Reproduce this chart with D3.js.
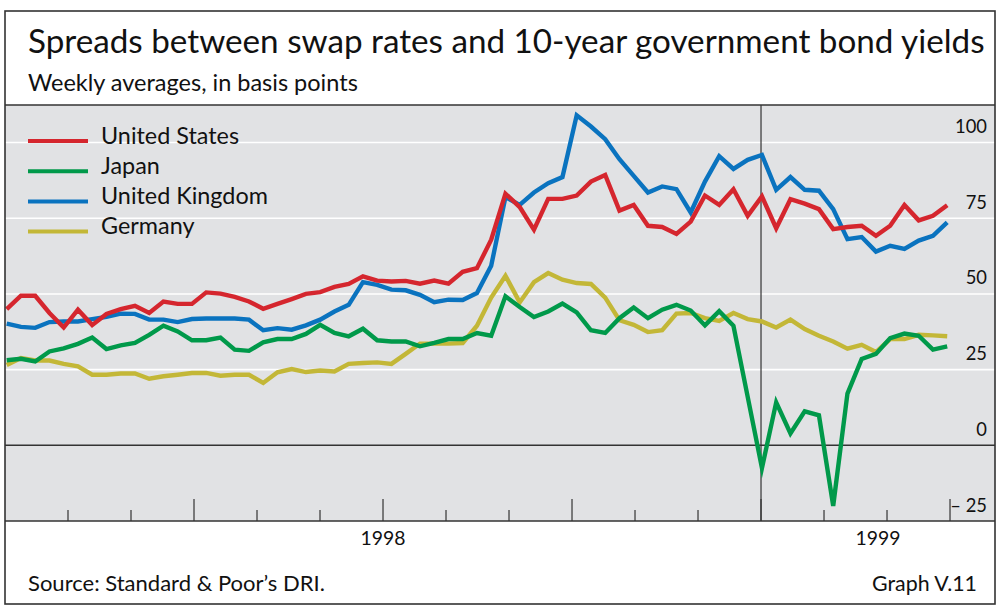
<!DOCTYPE html>
<html><head><meta charset="utf-8">
<script src="https://cdn.jsdelivr.net/npm/d3@7"></script>
<style>
body{margin:0;background:#fff}
svg{display:block}
text{font-family:Lato,"Open Sans",sans-serif;fill:#111}
</style>
</head><body>
<svg id="chart" width="1000" height="608"></svg>
<script>
// ---- data (weekly averages, basis points) ----
const seriesNames = ["United States", "Japan", "United Kingdom", "Germany"];
const seriesColors = ["#d5262e", "#00994a", "#0a73bf", "#c3b737"];
const unitedStates = [45.0,49.4,49.4,43.7,38.9,44.8,39.7,43.4,45.0,46.1,43.7,47.5,46.7,46.7,50.5,50.1,49.0,47.5,45.1,46.7,48.3,50.0,50.6,52.3,53.3,55.8,54.4,54.1,54.3,53.4,54.4,53.4,57.3,58.5,67.9,83.1,78.7,71.2,81.4,81.4,82.5,87.1,89.3,77.5,79.4,72.5,72.1,69.8,73.9,82.5,79.4,84.6,75.8,82.2,71.7,81.3,79.8,78.0,71.4,72.1,72.5,69.2,72.5,79.4,74.3,75.8,79.3];
const japan = [28.1,28.6,27.7,31.0,32.0,33.5,35.6,31.8,33.0,33.8,36.5,39.5,37.6,34.7,34.7,35.6,31.6,31.2,34.0,35.1,35.1,36.8,39.8,37.1,36.0,38.5,34.7,34.3,34.3,32.7,33.8,35.1,35.1,37.1,36.2,49.2,45.7,42.4,44.2,46.8,43.9,38.0,37.1,42.0,45.5,42.0,44.8,46.4,44.5,39.6,44.3,39.5,16.0,-7.5,14.2,3.9,11.2,9.9,-20.0,17.1,28.5,30.2,35.4,36.9,36.2,31.6,32.7];
const unitedKingdom = [40.2,39.1,38.8,40.7,40.9,40.9,41.7,42.4,43.5,43.4,41.5,41.5,40.7,41.7,41.9,41.9,41.9,41.5,38.0,38.7,38.2,39.6,41.5,44.2,46.4,53.9,53.0,51.4,51.2,49.7,47.3,48.1,48.0,50.3,59.3,82.0,79.4,83.5,86.6,88.6,109.0,105.3,101.1,94.5,89.0,83.5,85.5,84.6,76.9,87.1,95.5,91.3,94.3,95.9,84.4,88.6,84.4,84.1,78.0,68.1,68.8,64.0,65.9,64.9,67.6,69.2,73.6];
const germany = [26.5,28.8,28.0,28.0,26.9,26.1,23.3,23.3,23.7,23.7,22.0,22.8,23.3,23.9,23.9,23.0,23.3,23.3,20.6,24.1,25.2,24.2,24.7,24.4,26.9,27.2,27.4,26.9,30.2,33.6,33.6,33.6,33.8,39.5,48.8,56.0,47.2,53.9,56.9,54.7,53.6,53.3,48.8,41.3,39.8,37.4,38.0,43.5,43.7,42.0,41.1,43.7,41.7,40.9,38.9,41.5,38.4,36.2,34.3,31.9,33.2,30.8,35.1,35.1,36.5,36.3,36.0];
const yTickValues = [-25, 0, 25, 50, 75, 100];
const yTickLabels = ["\u2013 25", "0", "25", "50", "75", "100"];
const monthTicks = d3.range(1, 16);          // month boundaries after Jan 1998
const yearLabels = ["1998", "1999"];
const yearSpans = [[0, 12], [12, 15.714]];    // in months since Jan 1998
const titleText = "Spreads between swap rates and 10-year government bond yields";
const subtitleText = "Weekly averages, in basis points";
const sourceText = "Source: Standard & Poor\u2019s DRI.";
const graphLabel = "Graph V.11";

const allSeries = [unitedStates, japan, unitedKingdom, germany];

// ---- layout ----
const svg = d3.select("#chart");
const L = 5, R = 995, T = 105, B = 521;

const x = d3.scaleLinear().domain([0, 15.714]).range([L, R]);   // months
const xw = d3.scalePoint().domain(d3.range(unitedStates.length)).range([6.7, 947.2]); // weeks
const y = d3.scaleLinear().domain([-25, 112.4]).range([B, T]);

function fit(sel, target) {
  const n = sel.node();
  const w = n.getComputedTextLength();
  const fs = parseFloat(sel.attr("font-size"));
  sel.attr("font-size", (fs * target / w).toFixed(2));
}

// plot background
svg.append("rect").attr("x", L).attr("y", T).attr("width", R - L).attr("height", B - T).attr("fill", "#e1e2e4");

// white gridlines
svg.append("g").selectAll("line").data(yTickValues.filter(v => v > 0)).join("line")
  .attr("x1", L).attr("x2", R).attr("y1", d => y(d)).attr("y2", d => y(d))
  .attr("stroke", "#fff").attr("stroke-width", 1.6);

// zero line
svg.append("line").attr("x1", L).attr("x2", R).attr("y1", y(0)).attr("y2", y(0))
  .attr("stroke", "#333").attr("stroke-width", 1.4);

// year separator
svg.append("line").attr("x1", x(12)).attr("x2", x(12)).attr("y1", T).attr("y2", B)
  .attr("stroke", "#333").attr("stroke-width", 1.2);

// series lines
const line = d3.line().x((d, i) => xw(i)).y(d => y(d));
const drawOrder = [3, 2, 0, 1];
svg.append("g").selectAll("path").data(drawOrder).join("path")
  .attr("d", k => line(allSeries[k]))
  .attr("fill", "none").attr("stroke", k => seriesColors[k])
  .attr("stroke-width", 4.4).attr("stroke-linejoin", "miter").attr("stroke-miterlimit", 6);

// x ticks
svg.append("g").selectAll("line").data(monthTicks).join("line")
  .attr("x1", d => x(d)).attr("x2", d => x(d))
  .attr("y1", d => d % 3 === 0 ? B - 22 : B - 11).attr("y2", B)
  .attr("stroke", "#333").attr("stroke-width", 1.2);

// axis line
svg.append("line").attr("x1", L).attr("x2", R).attr("y1", B).attr("y2", B)
  .attr("stroke", "#333").attr("stroke-width", 1.6);
// title separator
svg.append("line").attr("x1", L).attr("x2", R).attr("y1", T).attr("y2", T)
  .attr("stroke", "#333").attr("stroke-width", 1.4);

// y labels
const yl = svg.append("g").selectAll("text").data(yTickValues).join("text")
  .attr("x", 987).attr("y", d => y(d) - 9.5).attr("text-anchor", "end")
  .attr("font-size", 20).text((d, i) => yTickLabels[i]);
{
  const n = yl.filter(d => d === 100);
  const w = n.node().getComputedTextLength();
  yl.attr("font-size", (20 * 32 / w).toFixed(2));
}

// year labels
const yrs = svg.append("g").selectAll("text").data(yearLabels).join("text")
  .attr("x", (d, i) => x((yearSpans[i][0] + yearSpans[i][1]) / 2))
  .attr("y", 545).attr("text-anchor", "middle").attr("font-size", 20).text(d => d);
{
  const w = yrs.node().getComputedTextLength();
  yrs.attr("font-size", (20 * 45 / w).toFixed(2));
}

// legend
const lg = svg.append("g");
seriesNames.forEach((name, i) => {
  const cy = 141 + i * 30.2;
  lg.append("line").attr("x1", 28).attr("x2", 88).attr("y1", cy).attr("y2", cy)
    .attr("stroke", seriesColors[i]).attr("stroke-width", 4);
});
const lt = lg.selectAll("text").data(seriesNames).join("text")
  .attr("x", 101).attr("y", (d, i) => 143.5 + i * 30.2).attr("font-size", 22).text(d => d);
{
  const w = lt.filter(d => d === "United Kingdom").node().getComputedTextLength();
  lt.attr("font-size", (22 * 167 / w).toFixed(2));
}

// titles
const t1 = svg.append("text").attr("x", 28).attr("y", 53).attr("font-size", 32).text(titleText);
fit(t1, 957);
const t2 = svg.append("text").attr("x", 28).attr("y", 90.5).attr("font-size", 21).text(subtitleText);
fit(t2, 330);
const s1 = svg.append("text").attr("x", 28).attr("y", 591).attr("font-size", 18).text(sourceText);
fit(s1, 297);
const s2 = svg.append("text").attr("x", 977).attr("y", 591).attr("text-anchor", "end").attr("font-size", 18).text(graphLabel);
fit(s2, 105);

// outer frame
svg.append("rect").attr("x", L).attr("y", 11).attr("width", R - L).attr("height", 593)
  .attr("fill", "none").attr("stroke", "#333").attr("stroke-width", 1.6);
</script>
</body></html>
